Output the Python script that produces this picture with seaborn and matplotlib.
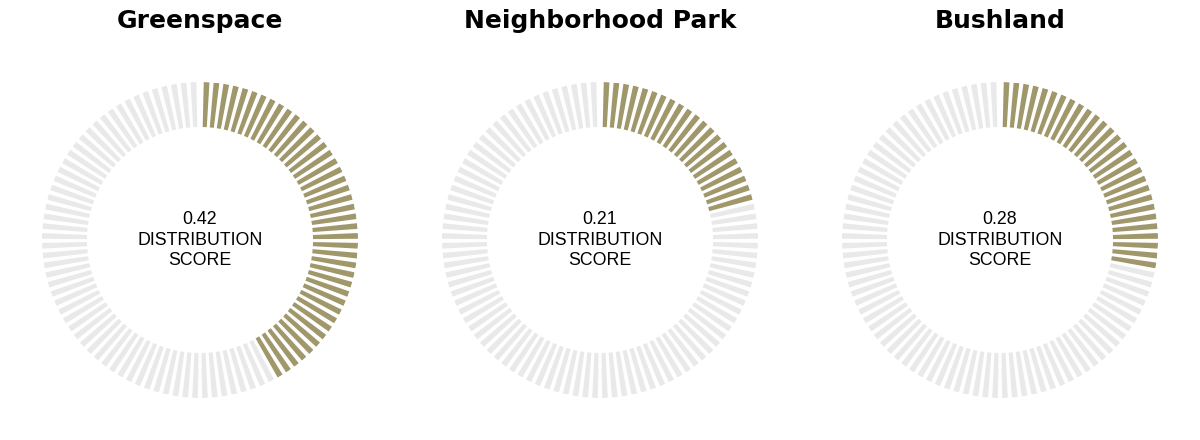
import numpy as np
import matplotlib
matplotlib.use("Agg")
import matplotlib.pyplot as plt
import seaborn as sns

# datos de cada anillo
categorias = ["Greenspace", "Neighborhood Park", "Bushland"]
puntajes = [0.42, 0.21, 0.28]
n_marcas = 100

color_lleno = "#a0976a"
color_vacio = "#e9e9e9"

sns.set_style("white")
plt.rcParams["font.family"] = ["DejaVu Sans"]
plt.rcParams["text.color"] = "black"

fig = plt.figure(figsize=(12, 4.4), dpi=100)

W, H = 1200, 440
r_ext, r_int = 158, 113
centros_x = [200, 600, 1000]
centro_y = 200  # desde abajo, en pixeles

# angulos de las marcas (un poco de hueco arriba)
inicio = np.deg2rad(2.4)
paso = (2 * np.pi - 2 * inicio) / (n_marcas - 1)
angulos = inicio + np.arange(n_marcas) * paso
ancho = paso * 0.58

for nombre, puntaje, cx in zip(categorias, puntajes, centros_x):
    lado = 2 * r_ext
    ax = fig.add_axes(
        [(cx - r_ext) / W, (centro_y - r_ext) / H, lado / W, lado / H],
        projection="polar",
    )
    ax.set_theta_zero_location("N")
    ax.set_theta_direction(-1)

    llenas = int(round(puntaje * n_marcas))
    colores = [color_lleno if i < llenas else color_vacio for i in range(n_marcas)]

    ax.bar(
        angulos,
        r_ext - r_int,
        width=ancho,
        bottom=r_int,
        color=colores,
        linewidth=0,
        align="center",
    )
    ax.set_ylim(0, r_ext)
    ax.set_axis_off()

    ax.text(
        0,
        0,
        f"{puntaje:.2f}\nDISTRIBUTION\nSCORE",
        ha="center",
        va="center",
        fontsize=12.8,
        color="black",
        family=["Liberation Sans", "DejaVu Sans"],
        linespacing=1.3,
    )

    fig.text(
        cx / W,
        1 - 21 / H,
        nombre,
        ha="center",
        va="center",
        fontsize=18,
        weight="bold",
        color="black",
    )

plt.savefig("out.png", dpi=100, facecolor="white")
